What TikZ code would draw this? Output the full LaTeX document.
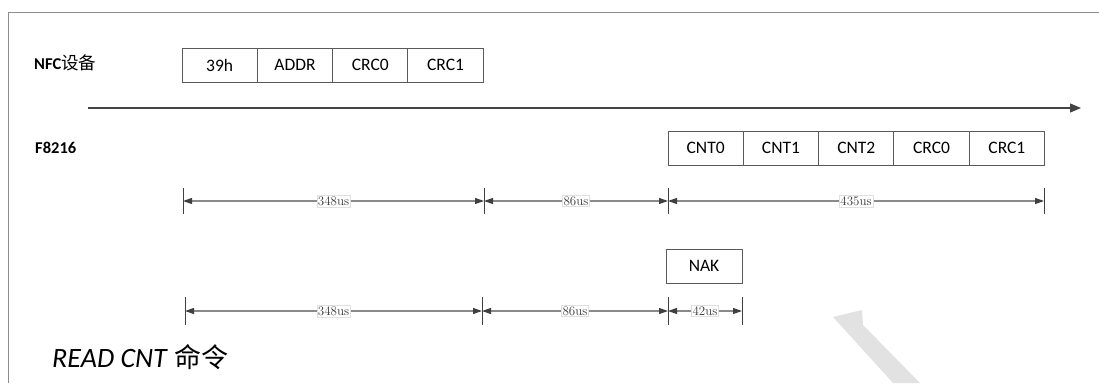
\documentclass[tikz,border=0pt]{standalone}
\usepackage{fontspec}
\newfontfamily\calfont{Carlito}
\newfontfamily\cjk{Noto Sans CJK SC}
\usetikzlibrary{arrows.meta}
\definecolor{boxline}{HTML}{5A5A5A}
\definecolor{axisline}{HTML}{444444}
\definecolor{dimgray}{HTML}{8A8A8A}
\definecolor{tipgray}{HTML}{404040}
\definecolor{framegray}{HTML}{8C8C8C}
\definecolor{wmark}{HTML}{E2E2E2}
\begin{document}
\begin{tikzpicture}[x=1pt,y=-1pt,
  cell/.style={draw=boxline, line width=0.9pt, minimum width=75.3pt, minimum height=34pt,
    inner sep=0pt, outer sep=0pt, anchor=north west, font=\calfont\fontsize{17.5}{19}\selectfont},
  rowlabel/.style={anchor=west, inner sep=0pt, font=\calfont\bfseries\fontsize{16.5}{18}\selectfont},
  tick/.style={draw=tipgray, line width=1pt},
  dimline/.style={draw=dimgray, line width=1.1pt,
    {Triangle[length=9pt,width=6pt,color=tipgray]}-{Triangle[length=9pt,width=6pt,color=tipgray]}},
  dimlabel/.style={fill=white, draw=black!12, line width=0.4pt, inner sep=1.2pt,
    text=black!78, font=\fontsize{13}{13}\selectfont}
]
\useasboundingbox (0,0) rectangle (1099,383);

% watermark
\fill[wmark] (833,317) -- (862,310) -- (863,325) -- (920,383) -- (893,383) -- cycle;

% frame
\draw[framegray, line width=1pt] (8.7,383) -- (8.7,12.7) -- (1099,12.7);

% row labels
\node[rowlabel] (nfc) at (34,63) {NFC{\cjk\mdseries\fontsize{17.5}{18}\selectfont 设备}};
\node[rowlabel] (f8216) at (35,148) {F8216};

% NFC frames
\node[cell] (a1) at (182,48) {39h};
\node[cell] (a2) at (a1.north east) {ADDR};
\node[cell] (a3) at (a2.north east) {CRC0};
\node[cell] (a4) at (a3.north east) {CRC1};

% time axis
\coordinate (ts) at (88,108);
\coordinate (te) at (1081,108);
\draw[axisline, line width=1.3pt, -{Triangle[length=11pt,width=9pt]}] (ts) -- (te);

% F8216 frames
\node[cell] (b1) at (668,131) {CNT0};
\node[cell] (b2) at (b1.north east) {CNT1};
\node[cell] (b3) at (b2.north east) {CNT2};
\node[cell] (b4) at (b3.north east) {CRC0};
\node[cell] (b5) at (b4.north east) {CRC1};

% NAK
\node[cell, minimum width=76pt] (nak) at (666,249) {NAK};

% dimension row 1
\coordinate (p1) at (183,201);
\coordinate (p2) at (484,201);
\coordinate (p3) at (668,201);
\coordinate (p4) at (1044,201);
\foreach \p in {p1,p2,p3,p4}{\draw[tick] ([yshift=-13pt]\p) -- ([yshift=13pt]\p);}
\draw[dimline] (p1) -- node[dimlabel] (l1) {348us} (p2);
\draw[dimline] (p2) -- node[dimlabel] (l2) {86us} (p3);
\draw[dimline] (p3) -- node[dimlabel] (l3) {435us} (p4);

% dimension row 2
\coordinate (q1) at (185,311);
\coordinate (q2) at (482,311);
\coordinate (q3) at (668,311);
\coordinate (q4) at (742,311);
\foreach \p in {q1,q2,q3,q4}{\draw[tick] ([yshift=-13.5pt]\p) -- ([yshift=14pt]\p);}
\draw[dimline] (q1) -- node[dimlabel] (m1) {348us} (q2);
\draw[dimline] (q2) -- node[dimlabel] (m2) {86us} (q3);
\draw[dimline] (q3) -- node[dimlabel] (m3) {42us} (q4);

% caption
\node[anchor=west, inner sep=0pt, font=\calfont\fontsize{28}{30}\selectfont] (cap) at (52,357)
  {\textit{READ CNT} {\cjk\fontsize{27}{30}\selectfont 命令}};
\end{tikzpicture}
\end{document}
